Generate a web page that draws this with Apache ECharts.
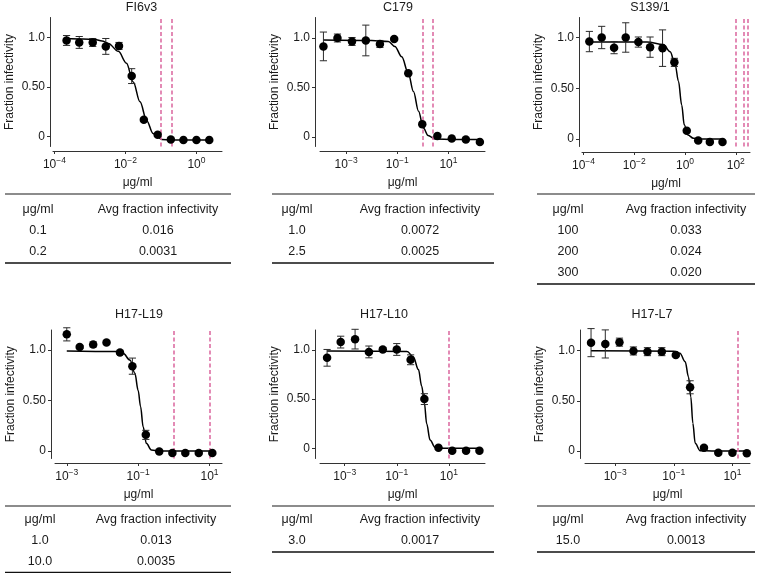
<!DOCTYPE html>
<html><head><meta charset="utf-8">
<script src="https://cdn.jsdelivr.net/npm/echarts@6/dist/echarts.min.js"></script>
<style>html,body{margin:0;padding:0;background:#fff}#c{width:758px;height:573px}</style>
</head><body><div id="c"></div>
<script>
// ---------- data (concentrations in µg/ml, fraction infectivity) ----------
const FI6V3_CONC = [0.00022, 0.0005, 0.0012, 0.0028, 0.0066, 0.015, 0.033, 0.081, 0.19, 0.43, 1.0, 2.3];
const FI6V3_FRAC = [0.97, 0.95, 0.95, 0.91, 0.915, 0.61, 0.17, 0.017, -0.03, -0.035, -0.035, -0.035];
const FI6V3_ERR  = [0.05, 0.06, 0.04, 0.08, 0.035, 0.075, 0, 0, 0, 0, 0, 0];
const FI6V3_FIT_CONC = [0.00021, 0.00063, 0.0014, 0.0022, 0.0033, 0.0063, 0.0107, 0.0166, 0.0257, 0.0398, 0.06, 0.079, 0.105, 0.2, 2.4];
const FI6V3_FIT_FRAC = [0.99, 0.985, 0.98, 0.965, 0.94, 0.86, 0.74, 0.55, 0.35, 0.16, 0.03, 0.0, -0.03, -0.035, -0.035];
const FI6V3_LINES = [0.1, 0.2];
const FI6V3_TABLE_CONC = ['0.1', '0.2'];
const FI6V3_TABLE_AVG  = ['0.016', '0.0031'];
const FI6V3_XTICKS = [-4, -2, 0];

const C179_CONC = [0.00013, 0.00046, 0.0017, 0.0059, 0.021, 0.076, 0.27, 0.95, 3.7, 13.5, 48, 170];
const C179_FRAC = [0.915, 1.0, 0.965, 0.975, 0.94, 0.99, 0.645, 0.13, 0.01, -0.015, -0.025, -0.05];
const C179_ERR  = [0.145, 0.04, 0.04, 0.155, 0.035, 0, 0, 0, 0, 0, 0, 0];
const C179_FIT_CONC = [0.00013, 0.01, 0.045, 0.081, 0.15, 0.27, 0.43, 0.68, 1.05, 1.6, 3.0, 16, 170];
const C179_FIT_FRAC = [0.98, 0.975, 0.965, 0.915, 0.81, 0.645, 0.46, 0.26, 0.09, 0.015, -0.02, -0.025, -0.025];
const C179_LINES = [1.0, 2.5];
const C179_TABLE_CONC = ['1.0', '2.5'];
const C179_TABLE_AVG  = ['0.0072', '0.0025'];
const C179_XTICKS = [-3, -1, 1];

const S139_CONC = [0.00017, 0.00052, 0.0016, 0.0046, 0.0145, 0.042, 0.13, 0.38, 1.17, 3.3, 9.5, 30];
const S139_FRAC = [0.96, 1.0, 0.90, 1.0, 0.955, 0.905, 0.895, 0.755, 0.08, -0.015, -0.03, -0.03];
const S139_ERR  = [0.10, 0.11, 0.06, 0.145, 0.05, 0.10, 0.18, 0.04, 0, 0, 0, 0];
const S139_FIT_CONC = [0.00017, 0.032, 0.14, 0.26, 0.41, 0.55, 0.74, 0.93, 1.29, 2.14, 5.0, 30];
const S139_FIT_FRAC = [0.955, 0.955, 0.93, 0.86, 0.73, 0.57, 0.335, 0.14, 0.04, 0.007, 0.0, 0.0];
const S139_LINES = [100, 200, 300];
const S139_TABLE_CONC = ['100', '200', '300'];
const S139_TABLE_AVG  = ['0.033', '0.024', '0.020'];
const S139_XTICKS = [-4, -2, 0, 2];

const L19_CONC = [0.001, 0.0023, 0.0055, 0.013, 0.031, 0.069, 0.164, 0.39, 0.91, 2.1, 5.0, 12];
const L19_FRAC = [1.155, 1.03, 1.055, 1.075, 0.975, 0.84, 0.16, -0.005, -0.02, -0.02, -0.02, -0.02];
const L19_ERR  = [0.065, 0.015, 0.025, 0.015, 0.015, 0.08, 0.045, 0, 0, 0, 0, 0];
const L19_FIT_CONC = [0.001, 0.025, 0.038, 0.059, 0.081, 0.1, 0.117, 0.138, 0.17, 0.234, 0.39, 12];
const L19_FIT_FRAC = [0.99, 0.985, 0.967, 0.90, 0.77, 0.60, 0.44, 0.24, 0.076, 0.01, 0.0, 0.0];
const L19_LINES = [1.0, 10.0];
const L19_TABLE_CONC = ['1.0', '10.0'];
const L19_TABLE_AVG  = ['0.013', '0.0035'];
const L19_XTICKS = [-3, -1, 1];

const L10_CONC = [0.00021, 0.0007, 0.0025, 0.0085, 0.029, 0.1, 0.34, 1.15, 4.0, 13.5, 46, 150];
const L10_FRAC = [0.92, 1.08, 1.11, 0.98, 1.005, 1.005, 0.90, 0.50, 0.006, -0.025, -0.025, -0.025];
const L10_ERR  = [0.085, 0.06, 0.10, 0.06, 0.02, 0.06, 0.05, 0.055, 0, 0, 0, 0];
const L10_FIT_CONC = [0.00021, 0.25, 0.43, 0.68, 0.91, 1.15, 1.41, 1.9, 2.95, 6.3, 150];
const L10_FIT_FRAC = [0.99, 0.985, 0.93, 0.80, 0.63, 0.46, 0.25, 0.085, 0.01, 0.0, 0.0];
const L10_LINES = [10];
const L10_TABLE_CONC = ['3.0'];
const L10_TABLE_AVG  = ['0.0017'];
const L10_XTICKS = [-3, -1, 1];

const L7_CONC = [0.00015, 0.00046, 0.0014, 0.0042, 0.0126, 0.039, 0.117, 0.36, 1.07, 3.3, 10, 31];
const L7_FRAC = [1.08, 1.067, 1.085, 0.997, 0.99, 0.99, 0.957, 0.635, 0.033, -0.017, -0.017, -0.023];
const L7_ERR  = [0.14, 0.14, 0.04, 0.04, 0.04, 0.04, 0.015, 0.065, 0, 0, 0, 0];
const L7_FIT_CONC = [0.00015, 0.1, 0.162, 0.245, 0.316, 0.38, 0.447, 0.537, 0.79, 2.0, 31.6];
const L7_FIT_FRAC = [1.0, 0.995, 0.974, 0.89, 0.74, 0.54, 0.276, 0.077, 0.003, 0.0, 0.0];
const L7_LINES = [15];
const L7_TABLE_CONC = ['15.0'];
const L7_TABLE_AVG  = ['0.0013'];
const L7_XTICKS = [-3, -1, 1];

const Y_TICK_VALUES = [0, 0.5, 1];
const Y_TICK_LABELS = ['0', '0.50', '1.0'];
const TABLE_HEADER = ['\u03bcg/ml', 'Avg fraction infectivity'];
const TITLES = ['FI6v3', 'C179', 'S139/1', 'H17-L19', 'H17-L10', 'H17-L7'];

// ---------- layout ----------
const FONT = '"Liberation Sans", Arial, Helvetica, sans-serif';
const PINK = '#dc6ea3';
const panels = [
  {conc:FI6V3_CONC, frac:FI6V3_FRAC, err:FI6V3_ERR, fc:FI6V3_FIT_CONC, ff:FI6V3_FIT_FRAC, lines:FI6V3_LINES, tc:FI6V3_TABLE_CONC, ta:FI6V3_TABLE_AVG, xt:FI6V3_XTICKS,
   L:{gl:53, gr:222, gt:17.5, gb:146.5, xmin:-4.04, xmax:0.72, ymin:-0.101, ymax:1.202, yoff:3, xoff:4.5, tx:141.5, ty:8, tl:5, tr:231, c1:38, c2:158, top:true}},
  {conc:C179_CONC, frac:C179_FRAC, err:C179_ERR, fc:C179_FIT_CONC, ff:C179_FIT_FRAC, lines:C179_LINES, tc:C179_TABLE_CONC, ta:C179_TABLE_AVG, xt:C179_XTICKS,
   L:{gl:320, gr:485, gt:17.5, gb:146.5, xmin:-4.02, xmax:2.43, ymin:-0.096, ymax:1.207, yoff:5, xoff:4.5, tx:398, ty:8, tl:272, tr:494, c1:297, c2:420, top:true}},
  {conc:S139_CONC, frac:S139_FRAC, err:S139_ERR, fc:S139_FIT_CONC, ff:S139_FIT_FRAC, lines:S139_LINES, tc:S139_TABLE_CONC, ta:S139_TABLE_AVG, xt:S139_XTICKS,
   L:{gl:582, gr:750, gt:17.5, gb:146.5, xmin:-4.06, xmax:2.56, ymin:-0.074, ymax:1.197, yoff:3, xoff:5.5, tx:650, ty:8, tl:537, tr:755, c1:568, c2:686, top:true}},
  {conc:L19_CONC, frac:L19_FRAC, err:L19_ERR, fc:L19_FIT_CONC, ff:L19_FIT_FRAC, lines:L19_LINES, tc:L19_TABLE_CONC, ta:L19_TABLE_AVG, xt:L19_XTICKS,
   L:{gl:55, gr:222, gt:330, gb:458.5, xmin:-3.33, xmax:1.35, ymin:-0.074, ymax:1.198, yoff:4, xoff:4.5, tx:139, ty:315, tl:5, tr:231, c1:40, c2:156, top:false}},
  {conc:L10_CONC, frac:L10_FRAC, err:L10_ERR, fc:L10_FIT_CONC, ff:L10_FIT_FRAC, lines:L10_LINES, tc:L10_TABLE_CONC, ta:L10_TABLE_AVG, xt:L10_XTICKS,
   L:{gl:320, gr:485, gt:330, gb:458.5, xmin:-3.95, xmax:2.39, ymin:-0.104, ymax:1.203, yoff:5, xoff:4.5, tx:384, ty:315, tl:272, tr:494, c1:297, c2:420, top:false}},
  {conc:L7_CONC, frac:L7_FRAC, err:L7_ERR, fc:L7_FIT_CONC, ff:L7_FIT_FRAC, lines:L7_LINES, tc:L7_TABLE_CONC, ta:L7_TABLE_AVG, xt:L7_XTICKS,
   L:{gl:585, gr:750, gt:330, gb:458.5, xmin:-4.03, xmax:1.60, ymin:-0.075, ymax:1.206, yoff:5, xoff:4.5, tx:652, ty:315, tl:537, tr:755, c1:568, c2:686, top:false}}
];

const lg = v => Math.log10(v);
const supFmt = v => {
  const n = Math.round(v);
  const s = n < 0 ? '\u2212' + (-n) : String(n);
  return '{b|10}{s|' + s + '}';
};

function errRender(params, api) {
  const x = api.value(0), y = api.value(1), e = api.value(2);
  const p1 = api.coord([x, y + e]), p2 = api.coord([x, y - e]);
  const w = 3.6;
  const st = {stroke: '#2b2b2b', lineWidth: 1};
  return {type: 'group', children: [
    {type: 'line', shape: {x1: p1[0], y1: p1[1], x2: p2[0], y2: p2[1]}, style: st},
    {type: 'line', shape: {x1: p1[0] - w, y1: p1[1], x2: p1[0] + w, y2: p1[1]}, style: st},
    {type: 'line', shape: {x1: p2[0] - w, y1: p2[1], x2: p2[0] + w, y2: p2[1]}, style: st}
  ]};
}

const grid = [], xAxis = [], yAxis = [], series = [], graphic = [];
panels.forEach((p, i) => {
  const L = p.L;
  grid.push({left: L.gl, top: L.gt, width: L.gr - L.gl, height: L.gb - L.gt});
  xAxis.push({
    gridIndex: i, type: 'value', min: L.xmin, max: L.xmax, position: 'bottom', offset: L.xoff,
    axisLine: {show: true, onZero: false, lineStyle: {color: '#333', width: 1}},
    axisTick: {show: true, length: 3, lineStyle: {color: '#333'}, customValues: p.xt},
    axisLabel: {customValues: p.xt, formatter: supFmt, margin: 5.5, color: '#1a1a1a',
      rich: {b: {fontSize: 12, fontFamily: FONT, color: '#1a1a1a', padding: [2, 0, 0, 0]},
             s: {fontSize: 8.5, fontFamily: FONT, color: '#1a1a1a', verticalAlign: 'top'}}},
    splitLine: {show: false},
    name: '\u03bcg/ml', nameLocation: 'middle', nameGap: 26,
    nameTextStyle: {fontSize: 12, fontFamily: FONT, color: '#1a1a1a'}
  });
  yAxis.push({
    gridIndex: i, type: 'value', min: L.ymin, max: L.ymax, position: 'left', offset: L.yoff,
    axisLine: {show: true, onZero: false, lineStyle: {color: '#333', width: 1}},
    axisTick: {show: true, length: 3, lineStyle: {color: '#333'}, customValues: Y_TICK_VALUES},
    axisLabel: {customValues: Y_TICK_VALUES, margin: 5, fontSize: 12, fontFamily: FONT, color: '#1a1a1a',
      formatter: v => Y_TICK_LABELS[Y_TICK_VALUES.findIndex(t => Math.abs(t - v) < 1e-9)]},
    splitLine: {show: false},
    name: 'Fraction infectivity', nameLocation: 'middle', nameGap: 34,
    nameTextStyle: {fontSize: 12, fontFamily: FONT, color: '#1a1a1a'}
  });
  series.push({
    type: 'line', xAxisIndex: i, yAxisIndex: i, silent: true, z: 3,
    data: p.fc.map((c, j) => [lg(c), p.ff[j]]),
    smooth: 0.35, smoothMonotone: 'x', showSymbol: false, symbol: 'none',
    lineStyle: {color: '#000', width: 1.5},
    markLine: {silent: true, symbol: ['none', 'none'], label: {show: false},
      lineStyle: {color: PINK, type: [4, 2.5], width: 1.6},
      data: p.lines.map(v => ({xAxis: lg(v)}))}
  });
  series.push({
    type: 'custom', xAxisIndex: i, yAxisIndex: i, silent: true, z: 4,
    renderItem: errRender,
    data: p.conc.map((c, j) => [lg(c), p.frac[j], p.err[j]]).filter(d => d[2] > 0)
  });
  series.push({
    type: 'scatter', xAxisIndex: i, yAxisIndex: i, silent: true, z: 5,
    symbol: 'circle', symbolSize: 8.5, itemStyle: {color: '#000', opacity: 1},
    data: p.conc.map((c, j) => [lg(c), p.frac[j]])
  });

  // title
  graphic.push({type: 'text', x: L.tx, y: L.ty, silent: true,
    style: {text: TITLES[i], fontSize: 12.5, fontFamily: FONT, fill: '#1a1a1a', align: 'center', verticalAlign: 'middle'}});

  // table
  const T = L.top ? {line: 194, head: 210, row0: 231, step: 21} : {line: 506, head: 520, row0: 541, step: 20.5};
  const lastRow = T.row0 + T.step * (p.tc.length - 1);
  graphic.push({type: 'line', silent: true, shape: {x1: L.tl, y1: T.line, x2: L.tr, y2: T.line}, style: {stroke: '#666', lineWidth: 1.5}});
  graphic.push({type: 'line', silent: true, shape: {x1: L.tl, y1: lastRow + 11, x2: L.tr, y2: lastRow + 11}, style: {stroke: '#111', lineWidth: 1.5}});
  const tstyle = (txt, x, y) => ({type: 'text', x: x, y: y, silent: true,
    style: {text: txt, fontSize: 12.5, fontFamily: FONT, fill: '#1a1a1a', align: 'center', verticalAlign: 'middle'}});
  graphic.push(tstyle(TABLE_HEADER[0], L.c1, T.head));
  graphic.push(tstyle(TABLE_HEADER[1], L.c2, T.head));
  p.tc.forEach((c, j) => {
    graphic.push(tstyle(c, L.c1, T.row0 + T.step * j));
    graphic.push(tstyle(p.ta[j], L.c2, T.row0 + T.step * j));
  });
});

const chart = echarts.init(document.getElementById('c'), null, {renderer: 'canvas'});
chart.setOption({animation: false, backgroundColor: '#fff', grid, xAxis, yAxis, series, graphic});
</script></body></html>
